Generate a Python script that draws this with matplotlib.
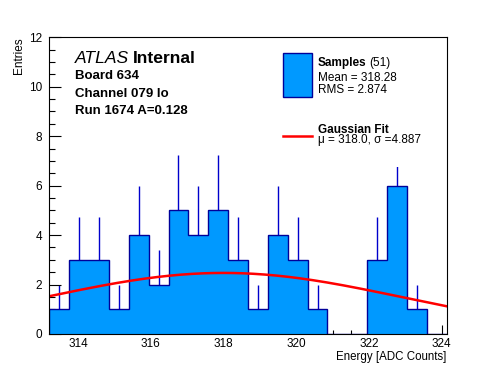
import numpy as np
import matplotlib.pyplot as plt

# Data
bin_lo = 313.21
bin_hi = 324.14
counts = [1, 3, 3, 1, 4, 2, 5, 4, 5, 3, 1, 4, 3, 1, 0, 0, 3, 6, 1, 0]
fit_mu = 318.0
fit_sigma = 4.887
fit_amp = 2.47

plt.rcParams['font.family'] = ['Liberation Sans', 'DejaVu Sans']

W, H = 496, 372
fig = plt.figure(figsize=(W / 100, H / 100), dpi=100)
ax = fig.add_axes([49.3 / W, 1 - 334 / H, (446.7 - 49.3) / W, (334 - 37.3) / H])

edges = np.linspace(bin_lo, bin_hi, len(counts) + 1)
centers = 0.5 * (edges[:-1] + edges[1:])
counts = np.array(counts, dtype=float)

fill_col = '#0099ff'
line_col = '#000099'

# error bars (sqrt(N)), lower half hidden behind the fill
mask = counts > 0
err = np.sqrt(counts[mask])
ax.vlines(centers[mask], counts[mask] - err, counts[mask] + err,
          color='#0000cc', lw=1.0, zorder=1)
ax.stairs(counts, edges, fill=True, color=fill_col, zorder=2)
ax.stairs(counts, edges, color=line_col, lw=1.0, zorder=3)

# Gaussian fit
xs = np.linspace(bin_lo, bin_hi, 200)
ys = fit_amp * np.exp(-0.5 * ((xs - fit_mu) / fit_sigma) ** 2)
ax.plot(xs, ys, color='red', lw=1.8, zorder=4)

ax.set_xlim(bin_lo, bin_hi)
ax.set_ylim(0, 12)
ax.set_xticks(np.arange(314, 325, 2))
ax.set_xticks(np.arange(313.5, 324.2, 0.5), minor=True)
ax.set_yticks(np.arange(0, 13, 2))
ax.set_yticks(np.arange(0, 12.1, 0.5), minor=True)
ax.tick_params(axis='both', which='both', direction='in', width=0.8,
               labelsize=8.5, top=False, right=False)
ax.tick_params(axis='x', which='major', length=6.7, pad=3)
ax.tick_params(axis='x', which='minor', length=3.2)
ax.tick_params(axis='y', which='major', length=8.4, pad=5)
ax.tick_params(axis='y', which='minor', length=4.3)
for s in ax.spines.values():
    s.set_linewidth(0.8)
    s.set_zorder(6)


def px(x, y):
    return x / W, 1 - y / H


# white legend box (hides what is under it, like the ROOT legend)
fig.add_artist(plt.Rectangle(px(272, 166.7), (445 - 272) / W, (166.7 - 39) / H,
                             transform=fig.transFigure, facecolor='white',
                             edgecolor='none', zorder=5))

# labels
fig.text(*px(19, 37.3), 'Entries', rotation=90, ha='center', va='top', fontsize=8.5)
fig.text(*px(446, 360), 'Energy [ADC Counts]', ha='right', va='baseline', fontsize=8.3)

# ATLAS block
t = fig.text(*px(75, 63.3), 'ATLAS', style='italic', fontsize=12.6, va='baseline')
fig.canvas.draw()
bb = t.get_window_extent()
fig.text(bb.x1 / W + 4 / W, 1 - 63.3 / H, 'Internal', fontweight='bold',
         fontsize=12.6, va='baseline')
fig.text(*px(75, 79.3), 'Board 634', fontweight='bold', fontsize=9.5, va='baseline')
fig.text(*px(75, 96.7), 'Channel 079 lo', fontweight='bold', fontsize=9.5, va='baseline')
fig.text(*px(75, 114.3), 'Run 1674 A=0.128', fontweight='bold', fontsize=9.5, va='baseline')

# legend
fig.add_artist(plt.Rectangle(px(283.3, 96.7), 28.4 / W, 43.4 / H,
                             transform=fig.transFigure, facecolor=fill_col,
                             edgecolor=line_col, lw=1.0, zorder=7))
fig.add_artist(plt.Line2D([283.3 / W, 311.7 / W], [1 - 136 / H, 1 - 136 / H],
                          transform=fig.transFigure, color='red', lw=1.8, zorder=7))
t = fig.text(*px(317.7, 66), 'Samples', fontweight='bold', fontsize=8.5, va='baseline', zorder=8)
fig.canvas.draw()
bb = t.get_window_extent()
fig.text(bb.x1 / W + 3 / W, 1 - 66 / H, '(51)', fontsize=8.5, va='baseline', zorder=8)
fig.text(*px(317.7, 80.7), 'Mean = 318.28', fontsize=8.5, va='baseline', zorder=8)
fig.text(*px(317.7, 93.3), 'RMS = 2.874', fontsize=8.5, va='baseline', zorder=8)
fig.text(*px(317.7, 132.8), 'Gaussian Fit', fontweight='bold', fontsize=8.5, va='baseline', zorder=8)
fig.text(*px(317.7, 143.5), '\u03bc = 318.0, \u03c3 =4.887', fontsize=8.5, va='baseline', zorder=8)

fig.savefig('out.png', dpi=100)
